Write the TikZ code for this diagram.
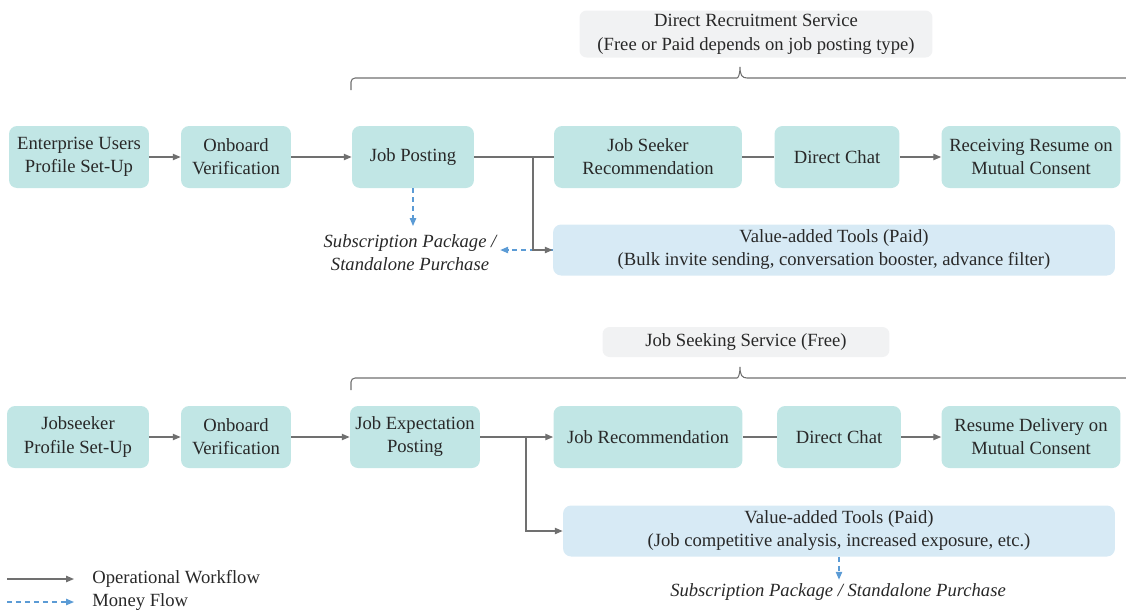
\documentclass[tikz,border=0pt]{standalone}
\usepackage{fontspec}
\setmainfont{Liberation Serif}
\usetikzlibrary{positioning,arrows.meta,calc}

\definecolor{stepteal}{RGB}{193,230,229}
\definecolor{tooltint}{RGB}{215,234,245}
\definecolor{headtint}{RGB}{241,242,243}
\definecolor{flowgrey}{RGB}{112,112,112}
\definecolor{moneyblue}{RGB}{91,155,213}
\definecolor{inkdark}{RGB}{40,40,40}

\begin{document}
\begin{tikzpicture}[
  x=0.02cm, y=-0.02cm,
  font=\fontsize{10.6}{13.1}\selectfont,
  text=inkdark,
  >={Triangle[length=4.5pt,width=3.6pt]},
  stage/.style={fill=stepteal, rounded corners=0.16cm, minimum height=1.24cm, align=center, inner sep=0pt},
  tools/.style={fill=tooltint, rounded corners=0.16cm, minimum height=1.02cm, align=center, inner sep=0pt},
  service/.style={fill=headtint, rounded corners=0.14cm, align=center, inner sep=0pt,
    font=\fontsize{10.6}{13.8}\selectfont},
  pay/.style={font=\fontsize{10.6}{13.1}\selectfont\itshape, align=center, inner sep=2pt},
  flow/.style={->, draw=flowgrey, line width=0.8pt},
  link/.style={draw=flowgrey, line width=0.8pt},
  money/.style={->, draw=moneyblue, line width=0.8pt, dash pattern=on 2.8pt off 2.3pt},
  bracket/.style={draw=flowgrey, line width=0.6pt},
]
\useasboundingbox (0,0) rectangle (1126,610);

% Recruiter side
\node[service, minimum width=7.06cm, minimum height=0.94cm] (drs) at (756,34)
  {Direct Recruitment Service\\(Free or Paid depends on job posting type)};
\draw[bracket] (351,90) [rounded corners=0.08cm] -- (351,78) -- (733,78) [sharp corners]
  .. controls (738,78) and (740,75) .. (740,67) .. controls (740,75) and (742,78) .. (747,78) -- (1126,78);

\node[stage, minimum width=2.8cm] (ent) at (79,157) {Enterprise Users\\Profile Set-Up};
\node[stage, minimum width=2.2cm] (obv1) at (236,157) {Onboard\\Verification};
\node[stage, minimum width=2.44cm] (post) at (413,157) {Job Posting};
\node[stage, minimum width=3.76cm] (jsr) at (648,157) {Job Seeker\\Recommendation};
\node[stage, minimum width=2.5cm] (chat1) at (837,157) {Direct Chat};
\node[stage, minimum width=3.58cm] (resume1) at (1031,157) {Receiving Resume on\\Mutual Consent};
\node[tools, minimum width=11.24cm] (tools1) at (834,250)
  {Value-added Tools (Paid)\\(Bulk invite sending, conversation booster, advance filter)};
\node[pay] (sub1) at (410,253) {Subscription Package /\\Standalone Purchase};

\draw[flow] (ent) -- (obv1);
\draw[flow] (obv1) -- (post);
\draw[link] (post) -- (jsr);
\draw[link] (jsr) -- (chat1);
\draw[flow] (chat1) -- (resume1);
\draw[money, shorten >=0.1cm] (post.south) -- (post.south |- sub1.north);
\draw[money] (tools1.west) -- (tools1.west -| sub1.east);
\coordinate (fork1) at (533,157);
\draw[flow] (fork1) |- (tools1.west);

% Jobseeker side
\node[service, minimum width=5.74cm, minimum height=0.6cm] (jss) at (746,342) {Job Seeking Service (Free)};
\draw[bracket] (351,390) [rounded corners=0.08cm] -- (351,378) -- (733,378) [sharp corners]
  .. controls (738,378) and (740,375) .. (740,367) .. controls (740,375) and (742,378) .. (747,378) -- (1126,378);

\node[stage, minimum width=2.84cm] (seeker) at (78,437) {Jobseeker\\Profile Set-Up};
\node[stage, minimum width=2.2cm] (obv2) at (236,437) {Onboard\\Verification};
\node[stage, minimum width=2.6cm] (expect) at (415,437) {Job Expectation\\Posting};
\node[stage, minimum width=3.78cm] (jrec) at (648,437) {Job Recommendation};
\node[stage, minimum width=2.48cm] (chat2) at (839,437) {Direct Chat};
\node[stage, minimum width=3.58cm] (resume2) at (1031,437) {Resume Delivery on\\Mutual Consent};
\node[tools, minimum width=11.04cm] (tools2) at (839,531)
  {Value-added Tools (Paid)\\(Job competitive analysis, increased exposure, etc.)};
\node[pay] (sub2) at (838,592) {Subscription Package / Standalone Purchase};

\draw[flow] (seeker) -- (obv2);
\draw[flow] (obv2) -- (expect);
\draw[flow] (expect) -- (jrec);
\draw[link] (jrec) -- (chat2);
\draw[flow] (chat2) -- (resume2);
\coordinate (fork2) at (526,437);
\draw[flow] (fork2) |- (tools2.west);
\draw[money] (tools2.south) -- (tools2.south |- sub2.north);

% Legend
\coordinate (keyA) at (7,579);
\node[anchor=west, inner sep=0pt] (keyops) at (92,579) {Operational Workflow};
\draw[flow] (keyA) -- ([xshift=-0.36cm]keyops.west);
\coordinate (keyB) at (7,602);
\node[anchor=west, inner sep=0pt] (keymoney) at (92,602) {Money Flow};
\draw[money] (keyB) -- ([xshift=-0.36cm]keymoney.west);
\end{tikzpicture}
\end{document}
